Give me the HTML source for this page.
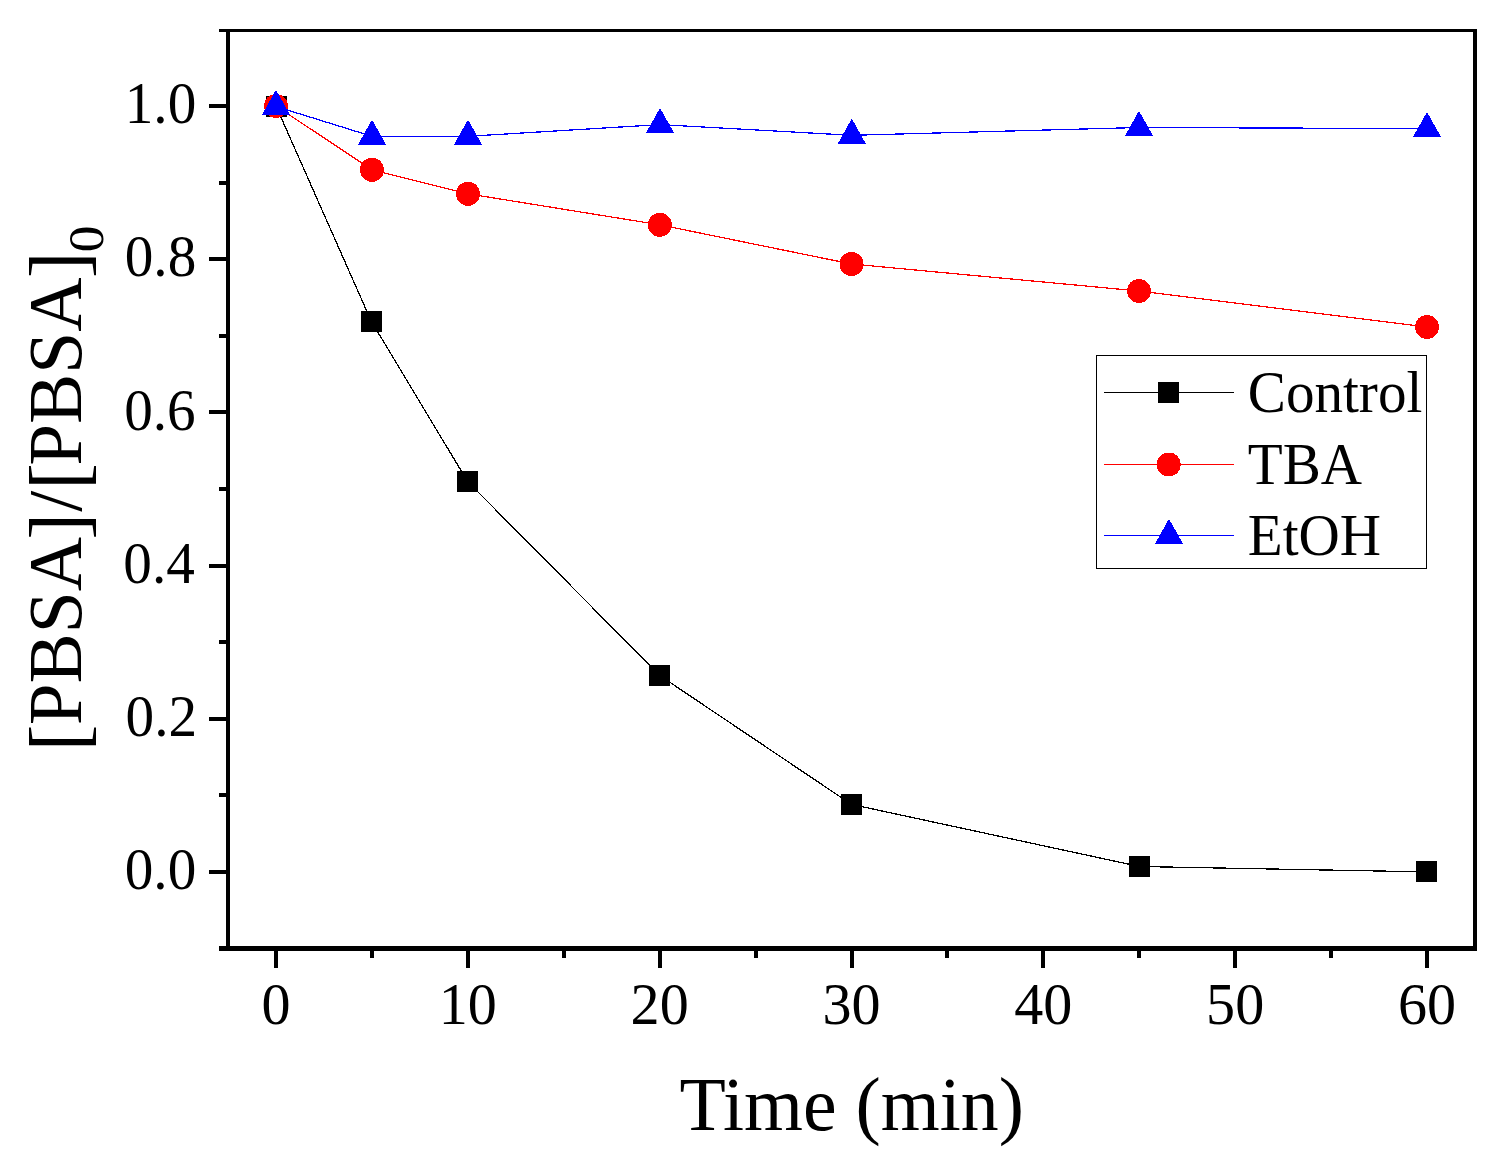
<!DOCTYPE html>
<html><head><meta charset="utf-8"><title>[PBSA]/[PBSA]0 vs Time</title>
<style>
html,body{margin:0;padding:0;background:#fff;}
body{width:1510px;height:1166px;overflow:hidden;}
svg{display:block;}
text{font-family:"Liberation Serif", "Times New Roman", serif;fill:#000;}
</style></head>
<body>
<svg width="1510" height="1166" viewBox="0 0 1510 1166">
<rect width="1510" height="1166" fill="#fff"/>
<g id="data" shape-rendering="crispEdges">
<polyline points="276.00,106.00 371.30,321.30 467.50,481.30 659.60,675.40 851.50,804.40 1139.50,866.50 1426.70,871.90" fill="none" stroke="#000" stroke-width="1.25" stroke-linejoin="round"/>
<rect x="265.50" y="95.50" width="21.0" height="21.0" fill="#000"/>
<rect x="360.80" y="310.80" width="21.0" height="21.0" fill="#000"/>
<rect x="457.00" y="470.80" width="21.0" height="21.0" fill="#000"/>
<rect x="649.10" y="664.90" width="21.0" height="21.0" fill="#000"/>
<rect x="841.00" y="793.90" width="21.0" height="21.0" fill="#000"/>
<rect x="1129.00" y="856.00" width="21.0" height="21.0" fill="#000"/>
<rect x="1416.20" y="861.40" width="21.0" height="21.0" fill="#000"/>
<polyline points="276.00,106.00 372.00,169.80 468.00,193.80 659.80,224.80 851.50,264.00 1139.00,291.00 1427.00,327.00" fill="none" stroke="#f00" stroke-width="1.25" stroke-linejoin="round"/>
<circle cx="276.00" cy="106.00" r="12.0" fill="#f00"/>
<circle cx="372.00" cy="169.80" r="12.0" fill="#f00"/>
<circle cx="468.00" cy="193.80" r="12.0" fill="#f00"/>
<circle cx="659.80" cy="224.80" r="12.0" fill="#f00"/>
<circle cx="851.50" cy="264.00" r="12.0" fill="#f00"/>
<circle cx="1139.00" cy="291.00" r="12.0" fill="#f00"/>
<circle cx="1427.00" cy="327.00" r="12.0" fill="#f00"/>
<polyline points="276.00,106.50 372.00,136.30 468.00,136.30 660.00,124.60 851.80,135.30 1139.00,127.50 1427.00,128.60" fill="none" stroke="#00f" stroke-width="1.25" stroke-linejoin="round"/>
<polygon points="276.00,89.83 290.00,114.83 262.00,114.83" fill="#00f"/>
<polygon points="372.00,119.63 386.00,144.63 358.00,144.63" fill="#00f"/>
<polygon points="468.00,119.63 482.00,144.63 454.00,144.63" fill="#00f"/>
<polygon points="660.00,107.93 674.00,132.93 646.00,132.93" fill="#00f"/>
<polygon points="851.80,118.63 865.80,143.63 837.80,143.63" fill="#00f"/>
<polygon points="1139.00,110.83 1153.00,135.83 1125.00,135.83" fill="#00f"/>
<polygon points="1427.00,111.93 1441.00,136.93 1413.00,136.93" fill="#00f"/>
</g>
<g id="frame" fill="#000">
<rect x="226" y="29" width="4" height="922"/>
<rect x="1473" y="29" width="4" height="922"/>
<rect x="226" y="29" width="1251" height="3"/>
<rect x="226" y="946" width="1251" height="5"/>
<rect x="219" y="946" width="7" height="5"/>
<rect x="209" y="870" width="17" height="4"/>
<rect x="219" y="793" width="7" height="4"/>
<rect x="209" y="717" width="17" height="4"/>
<rect x="219" y="640" width="7" height="4"/>
<rect x="209" y="564" width="17" height="4"/>
<rect x="219" y="487" width="7" height="4"/>
<rect x="209" y="410" width="17" height="4"/>
<rect x="219" y="334" width="7" height="4"/>
<rect x="209" y="257" width="17" height="4"/>
<rect x="219" y="181" width="7" height="4"/>
<rect x="209" y="104" width="17" height="4"/>
<rect x="219" y="29" width="7" height="3"/>
<rect x="274" y="951" width="4" height="17"/>
<rect x="370" y="951" width="4" height="7"/>
<rect x="466" y="951" width="4" height="17"/>
<rect x="562" y="951" width="4" height="7"/>
<rect x="658" y="951" width="4" height="17"/>
<rect x="754" y="951" width="4" height="7"/>
<rect x="850" y="951" width="4" height="17"/>
<rect x="945" y="951" width="4" height="7"/>
<rect x="1041" y="951" width="4" height="17"/>
<rect x="1137" y="951" width="4" height="7"/>
<rect x="1233" y="951" width="4" height="17"/>
<rect x="1329" y="951" width="4" height="7"/>
<rect x="1425" y="951" width="4" height="17"/>
</g>
<g id="ticklabels">
<text transform="matrix(0.9700 0 0 1.0000 124.75 889.10)" font-size="59.0">0.0</text>
<text transform="matrix(0.9700 0 0 1.0000 125.61 735.90)" font-size="59.0">0.2</text>
<text transform="matrix(0.9700 0 0 1.0000 123.32 582.70)" font-size="59.0">0.4</text>
<text transform="matrix(0.9700 0 0 1.0000 124.18 429.50)" font-size="59.0">0.6</text>
<text transform="matrix(0.9700 0 0 1.0000 124.75 276.30)" font-size="59.0">0.8</text>
<text transform="matrix(0.9700 0 0 1.0000 124.75 123.10)" font-size="59.0">1.0</text>
<text transform="matrix(0.9800 0 0 1.0000 261.47 1024.30)" font-size="59.3">0</text>
<text transform="matrix(0.9800 0 0 1.0000 438.78 1024.30)" font-size="59.3">10</text>
<text transform="matrix(0.9800 0 0 1.0000 630.61 1024.30)" font-size="59.3">20</text>
<text transform="matrix(0.9800 0 0 1.0000 822.44 1024.30)" font-size="59.3">30</text>
<text transform="matrix(0.9800 0 0 1.0000 1014.28 1024.30)" font-size="59.3">40</text>
<text transform="matrix(0.9800 0 0 1.0000 1206.11 1024.30)" font-size="59.3">50</text>
<text transform="matrix(0.9800 0 0 1.0000 1397.94 1024.30)" font-size="59.3">60</text>
</g>
<g id="legend" shape-rendering="crispEdges">
<rect x="1096.5" y="355.5" width="330" height="213" fill="#fff" stroke="#000" stroke-width="1"/>
<line x1="1104" y1="392.5" x2="1234" y2="392.5" stroke="#000" stroke-width="1"/>
<rect x="1158.10" y="382.00" width="21.0" height="21.0" fill="#000"/>
<text transform="matrix(0.9520 0 0 1.0000 1247.80 412.40)" font-size="60.0">Control</text>
<line x1="1104" y1="464.5" x2="1234" y2="464.5" stroke="#f00" stroke-width="1"/>
<circle cx="1168.70" cy="464.50" r="12.0" fill="#f00"/>
<text transform="matrix(0.9520 0 0 1.0000 1247.80 484.00)" font-size="60.0">TBA</text>
<line x1="1104" y1="535.5" x2="1234" y2="535.5" stroke="#00f" stroke-width="1"/>
<polygon points="1169.00,518.83 1183.00,543.83 1155.00,543.83" fill="#00f"/>
<text transform="matrix(0.9520 0 0 1.0000 1247.80 555.40)" font-size="60.0">EtOH</text>
</g>
<text transform="matrix(0.9845 0 0 1.0000 679.38 1129.90)" font-size="77.0" id="xtitle">Time (min)</text>
<text id="ytitle" transform="translate(80.90 750.35) rotate(-90) scale(0.9843 1)" font-size="76.5"><tspan font-size="80.0" dx="-0.58" dy="4.3">[</tspan><tspan dx="-0.58" dy="-4.3">PBSA</tspan><tspan font-size="80.0" dx="-2.58" dy="4.3">]</tspan><tspan dx="1.42" dy="-4.3">/</tspan><tspan font-size="80.0" dx="1.42" dy="4.3">[</tspan><tspan dx="-2.58" dy="-4.3">PBSA</tspan><tspan font-size="80.0" dx="-0.58" dy="4.3">]</tspan></text>
<text transform="translate(102.50 252.33) rotate(-90) scale(1.0458 1)" font-size="51.0">0</text>
</svg>
</body></html>
